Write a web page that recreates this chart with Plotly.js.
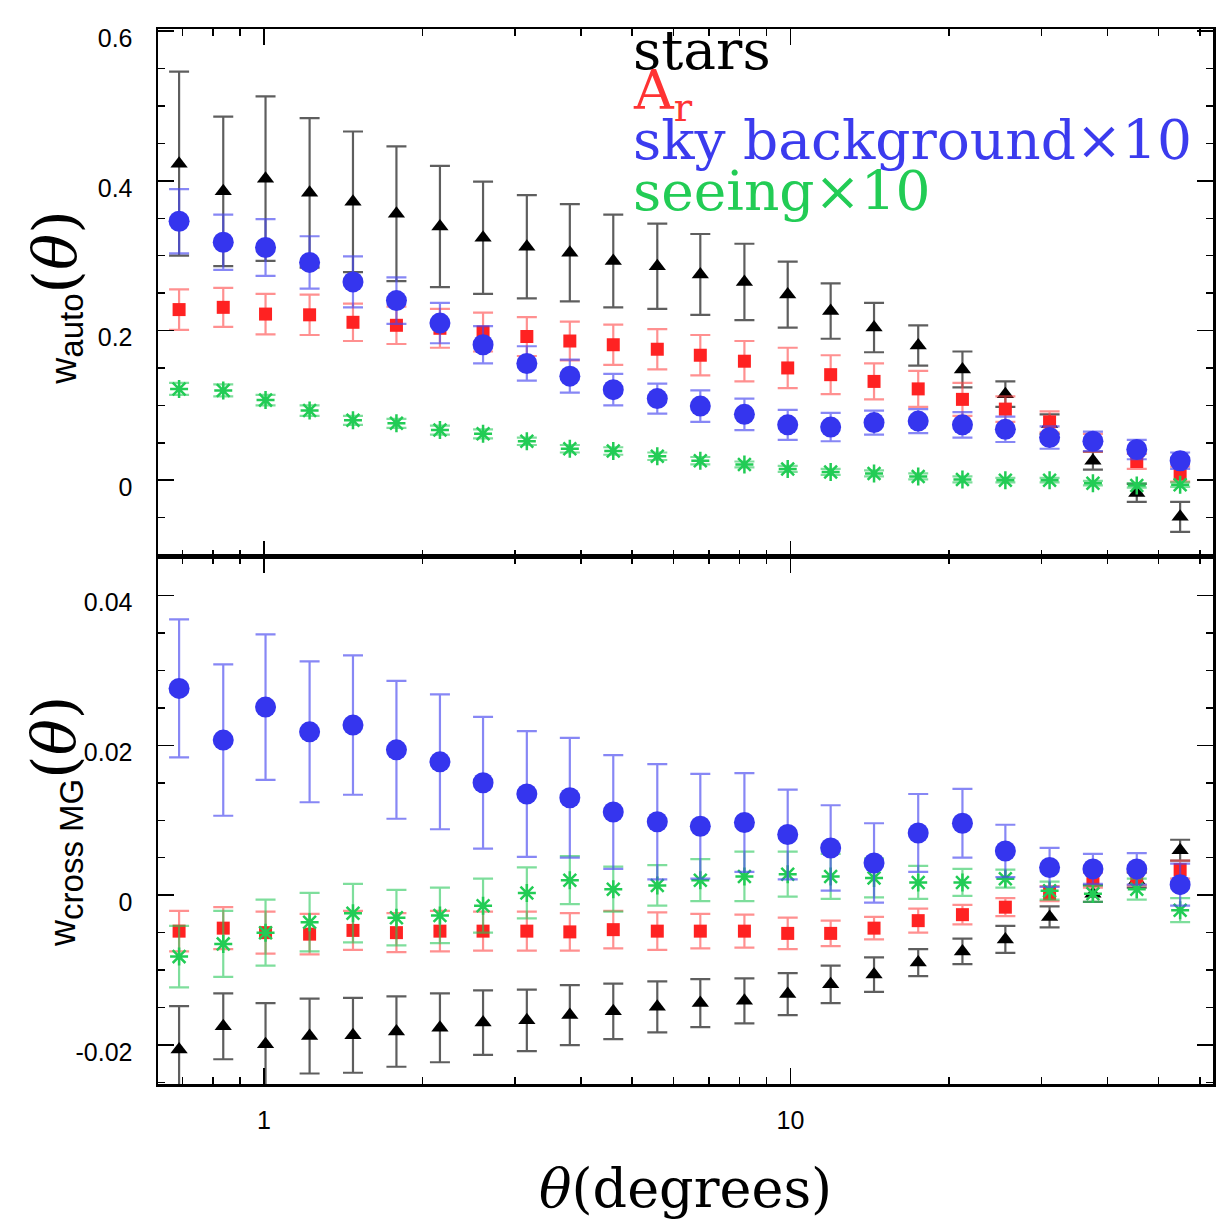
<!DOCTYPE html>
<html>
<head>
<meta charset="utf-8">
<script src="https://cdn.plot.ly/plotly-3.0.1.min.js"></script>
<style>html,body{margin:0;padding:0;background:#fff;}#chart{width:1230px;height:1230px;}</style>
</head>
<body>
<div id="chart"></div>
<script>
// angular bins (degrees)
const theta = [0.690, 0.837, 1.007, 1.221, 1.476, 1.785, 2.159, 2.607, 3.157, 3.810, 4.607, 5.585,
               6.741, 8.175, 9.879, 11.92, 14.41, 17.48, 21.21, 25.59, 31.05, 37.53, 45.46, 54.95];

// top panel: w_auto(theta)
const starsAuto    = [0.423, 0.386, 0.403, 0.384, 0.372, 0.356, 0.339, 0.324, 0.312, 0.304, 0.293, 0.286,
                      0.275, 0.265, 0.248, 0.226, 0.204, 0.180, 0.148, 0.115, 0.075, 0.026, -0.017, -0.049];
const starsAutoErr = [0.123, 0.100, 0.110, 0.100, 0.094, 0.090, 0.081, 0.075, 0.069, 0.065, 0.062, 0.057,
                      0.054, 0.051, 0.044, 0.037, 0.033, 0.027, 0.024, 0.017, 0.013, 0.012, 0.012, 0.020];
const arAuto       = [0.228, 0.231, 0.222, 0.221, 0.211, 0.207, 0.203, 0.198, 0.192, 0.186, 0.181, 0.175,
                      0.167, 0.159, 0.150, 0.141, 0.132, 0.122, 0.108, 0.095, 0.078, 0.050, 0.025, 0.008];
const arAutoErr    = [0.027, 0.026, 0.027, 0.027, 0.025, 0.025, 0.026, 0.026, 0.026, 0.026, 0.027, 0.027,
                      0.027, 0.027, 0.027, 0.026, 0.024, 0.024, 0.022, 0.017, 0.014, 0.012, 0.010, 0.010];
const skyAuto      = [0.346, 0.318, 0.311, 0.291, 0.265, 0.240, 0.210, 0.181, 0.156, 0.139, 0.121, 0.109,
                      0.099, 0.088, 0.074, 0.071, 0.077, 0.079, 0.074, 0.068, 0.057, 0.052, 0.041, 0.026];
const skyAutoErr   = [0.043, 0.037, 0.038, 0.035, 0.034, 0.031, 0.027, 0.025, 0.023, 0.022, 0.021, 0.020,
                      0.021, 0.021, 0.020, 0.019, 0.016, 0.016, 0.017, 0.017, 0.015, 0.013, 0.013, 0.011];
const seeAuto      = [0.122, 0.120, 0.107, 0.093, 0.080, 0.076, 0.067, 0.062, 0.052, 0.042, 0.039, 0.032,
                      0.026, 0.021, 0.015, 0.011, 0.009, 0.005, 0.001, 0.000, 0.000, -0.004, -0.007, -0.006];
const seeAutoErr   = [0.008, 0.008, 0.007, 0.007, 0.006, 0.006, 0.006, 0.006, 0.005, 0.005, 0.005, 0.005,
                      0.005, 0.004, 0.004, 0.004, 0.004, 0.004, 0.004, 0.003, 0.003, 0.003, 0.003, 0.003];

// bottom panel: w_cross MG(theta)
const starsCross    = [-0.0206, -0.0175, -0.0199, -0.0188, -0.0187, -0.0182, -0.0177, -0.0170, -0.0167, -0.0160, -0.0155, -0.0149,
                       -0.0144, -0.0141, -0.0132, -0.0119, -0.0106, -0.0090, -0.0075, -0.0059, -0.0029, 0.0002, 0.0020, 0.0060];
const starsCrossErr = [0.0058, 0.0044, 0.0055, 0.0050, 0.0050, 0.0047, 0.0046, 0.0043, 0.0041, 0.0040, 0.0037, 0.0034,
                       0.0032, 0.0030, 0.0028, 0.0025, 0.0023, 0.0018, 0.0017, 0.0018, 0.0014, 0.0011, 0.0010, 0.0014];
const arCross       = [-0.0048, -0.0044, -0.0050, -0.0052, -0.0047, -0.0050, -0.0048, -0.0048, -0.0048, -0.0049, -0.0046, -0.0048,
                       -0.0048, -0.0048, -0.0051, -0.0051, -0.0044, -0.0034, -0.0026, -0.0016, 0.0002, 0.0020, 0.0022, 0.0034];
const arCrossErr    = [0.0027, 0.0028, 0.0028, 0.0027, 0.0026, 0.0026, 0.0027, 0.0026, 0.0026, 0.0025, 0.0025, 0.0025,
                       0.0023, 0.0022, 0.0021, 0.0017, 0.0015, 0.0016, 0.0013, 0.0012, 0.0010, 0.0010, 0.0009, 0.0012];
const skyCross      = [0.0276, 0.0207, 0.0251, 0.0218, 0.0227, 0.0194, 0.0178, 0.0150, 0.0135, 0.0130, 0.0111, 0.0098,
                       0.0092, 0.0097, 0.0081, 0.0063, 0.0043, 0.0083, 0.0096, 0.0059, 0.0037, 0.0035, 0.0035, 0.0014];
const skyCrossErr   = [0.0092, 0.0101, 0.0097, 0.0094, 0.0093, 0.0092, 0.0090, 0.0088, 0.0084, 0.0080, 0.0076, 0.0077,
                       0.0070, 0.0066, 0.0060, 0.0057, 0.0053, 0.0052, 0.0046, 0.0035, 0.0026, 0.0020, 0.0021, 0.0028];
const seeCross      = [-0.0082, -0.0065, -0.0050, -0.0036, -0.0024, -0.0030, -0.0027, -0.0014, 0.0003, 0.0020, 0.0008, 0.0013,
                       0.0020, 0.0025, 0.0028, 0.0025, 0.0023, 0.0017, 0.0017, 0.0022, 0.0006, 0.0002, 0.0008, -0.0020];
const seeCrossErr   = [0.0041, 0.0044, 0.0044, 0.0039, 0.0039, 0.0037, 0.0037, 0.0036, 0.0034, 0.0032, 0.0030, 0.0027,
                       0.0028, 0.0033, 0.0030, 0.0030, 0.0026, 0.0022, 0.0018, 0.0012, 0.0012, 0.0011, 0.0014, 0.0016];

// axis ticks
const xMajor = [1, 10];
const xMajorText = ['1', '10'];
const xMinor = [0.7, 0.8, 0.9, 2, 3, 4, 5, 6, 7, 8, 9, 20, 30, 40, 50, 60];
const yTopTicks = [0, 0.2, 0.4, 0.6];
const yTopText = ['0', '0.2', '0.4', '0.6'];
const yBotTicks = [-0.02, 0, 0.02, 0.04];
const yBotText = ['-0.02', '0', '0.02', '0.04'];

// series styles
const S = {
  stars: {color: '#000000', bar: 'rgba(40,40,40,0.75)', symbol: 'triangle-up', size: 15},
  ar:    {color: '#ff2222', bar: 'rgba(255,70,70,0.6)', symbol: 'square', size: 13},
  see:   {color: '#22cc55', bar: 'rgba(40,200,90,0.6)', symbol: 'asterisk-open', size: 15},
  sky:   {color: '#3535ee', bar: 'rgba(70,70,240,0.65)', symbol: 'circle', size: 21}
};

function tr(y, err, st, xa, ya) {
  const m = {color: st.color, symbol: st.symbol, size: st.size};
  if (st.symbol === 'asterisk-open') m.line = {color: st.color, width: 2.5};
  else m.line = {width: 0};
  return {
    type: 'scatter', mode: 'markers', x: theta, y: y, xaxis: xa, yaxis: ya,
    marker: m, showlegend: false, hoverinfo: 'skip',
    error_y: {type: 'data', array: err, visible: true, color: st.bar, thickness: 2.2, width: 10}
  };
}

const data = [
  tr(starsAuto, starsAutoErr, S.stars, 'x2', 'y2'),
  tr(arAuto, arAutoErr, S.ar, 'x2', 'y2'),
  tr(seeAuto, seeAutoErr, S.see, 'x2', 'y2'),
  tr(skyAuto, skyAutoErr, S.sky, 'x2', 'y2'),
  tr(starsCross, starsCrossErr, S.stars, 'x', 'y'),
  tr(arCross, arCrossErr, S.ar, 'x', 'y'),
  tr(seeCross, seeCrossErr, S.see, 'x', 'y'),
  tr(skyCross, skyCrossErr, S.sky, 'x', 'y')
];

const tickFont = {family: 'Liberation Sans, Arial, sans-serif', size: 25, color: '#000'};
const xBase = {
  type: 'log', range: [-0.2012, 1.8024], showgrid: false, zeroline: false,
  showline: true, linecolor: '#000', linewidth: 2.5, mirror: 'allticks',
  ticks: 'inside', tickmode: 'array', tickvals: xMajor, ticktext: xMajorText,
  ticklen: 16, tickwidth: 1.5, tickcolor: '#000', tickfont: tickFont, ticklabelstandoff: 12,
  minor: {tickmode: 'array', tickvals: xMinor, ticks: 'inside', ticklen: 7, tickwidth: 1.5, tickcolor: '#000', showgrid: false}
};
function yBase(range, vals, text, minorDt) {
  return {
    range: range, showgrid: false, zeroline: false,
    showline: true, linecolor: '#000', linewidth: 2.5, mirror: 'allticks',
    ticks: 'inside', tickmode: 'array', tickvals: vals, ticktext: text,
    ticklen: 16, tickwidth: 1.5, tickcolor: '#000', tickfont: tickFont, ticklabelstandoff: 18,
    ticklabelshift: 7,
    minor: {tick0: 0, dtick: minorDt, ticks: 'inside', ticklen: 7, tickwidth: 1.5, tickcolor: '#000', showgrid: false}
  };
}

const serif = 'DejaVu Serif, serif';
const wSpan = "font-family:'Liberation Sans',Arial,sans-serif;font-size:36px";
const subSpan = "font-family:'Liberation Sans',Arial,sans-serif;font-size:33px";
const serifSpan = "font-family:'DejaVu Serif',serif;font-size:60px";

const layout = {
  width: 1230, height: 1230,
  margin: {l: 158, r: 17, t: 29, b: 146},
  paper_bgcolor: '#fff', plot_bgcolor: '#fff',
  xaxis: Object.assign({}, xBase, {anchor: 'y', domain: [0, 1]}),
  xaxis2: Object.assign({}, xBase, {anchor: 'y2', matches: 'x', showticklabels: false}),
  yaxis: Object.assign(yBase([-0.0252, 0.0452], yBotTicks, yBotText, 0.005), {domain: [0, 0.5], anchor: 'x'}),
  yaxis2: Object.assign(yBase([-0.102, 0.603], yTopTicks, yTopText, 0.05), {domain: [0.5, 1], anchor: 'x2'}),
  annotations: [
    {xref: 'paper', yref: 'paper', x: 0.5, y: -0.099, xanchor: 'center', yanchor: 'middle', showarrow: false,
     text: '<i>θ</i>(degrees)', font: {family: serif, size: 54, color: '#000'}},
    {xref: 'paper', yref: 'paper', x: -0.098, y: 0.745, xanchor: 'center', yanchor: 'middle', showarrow: false, textangle: -90,
     text: `<span style="${wSpan}">w</span><sub><span style="${subSpan}">auto</span></sub><span style="${serifSpan}">(<i>θ</i>)</span>`,
     font: {family: 'Liberation Sans, Arial, sans-serif', size: 36, color: '#000'}},
    {xref: 'paper', yref: 'paper', x: -0.098, y: 0.249, xanchor: 'center', yanchor: 'middle', showarrow: false, textangle: -90,
     text: `<span style="${wSpan}">w</span><sub><span style="${subSpan}">cross MG</span></sub><span style="${serifSpan}">(<i>θ</i>)</span>`,
     font: {family: 'Liberation Sans, Arial, sans-serif', size: 36, color: '#000'}},
    {xref: 'paper', yref: 'paper', x: 0.448, y: 0.980, xanchor: 'left', yanchor: 'middle', showarrow: false,
     text: 'stars', font: {family: serif, size: 55, color: '#000000'}},
    {xref: 'paper', yref: 'paper', x: 0.448, y: 0.938, xanchor: 'left', yanchor: 'middle', showarrow: false,
     text: 'A<sub>r</sub>', font: {family: serif, size: 55, color: '#ff3333'}},
    {xref: 'paper', yref: 'paper', x: 0.448, y: 0.895, xanchor: 'left', yanchor: 'middle', showarrow: false,
     text: 'sky background×10', font: {family: serif, size: 55, color: '#3b3bee'}},
    {xref: 'paper', yref: 'paper', x: 0.448, y: 0.846, xanchor: 'left', yanchor: 'middle', showarrow: false,
     text: 'seeing×10', font: {family: serif, size: 55, color: '#22cc55'}}
  ]
};

Plotly.newPlot('chart', data, layout, {staticPlot: true, displayModeBar: false});
</script>
</body>
</html>
